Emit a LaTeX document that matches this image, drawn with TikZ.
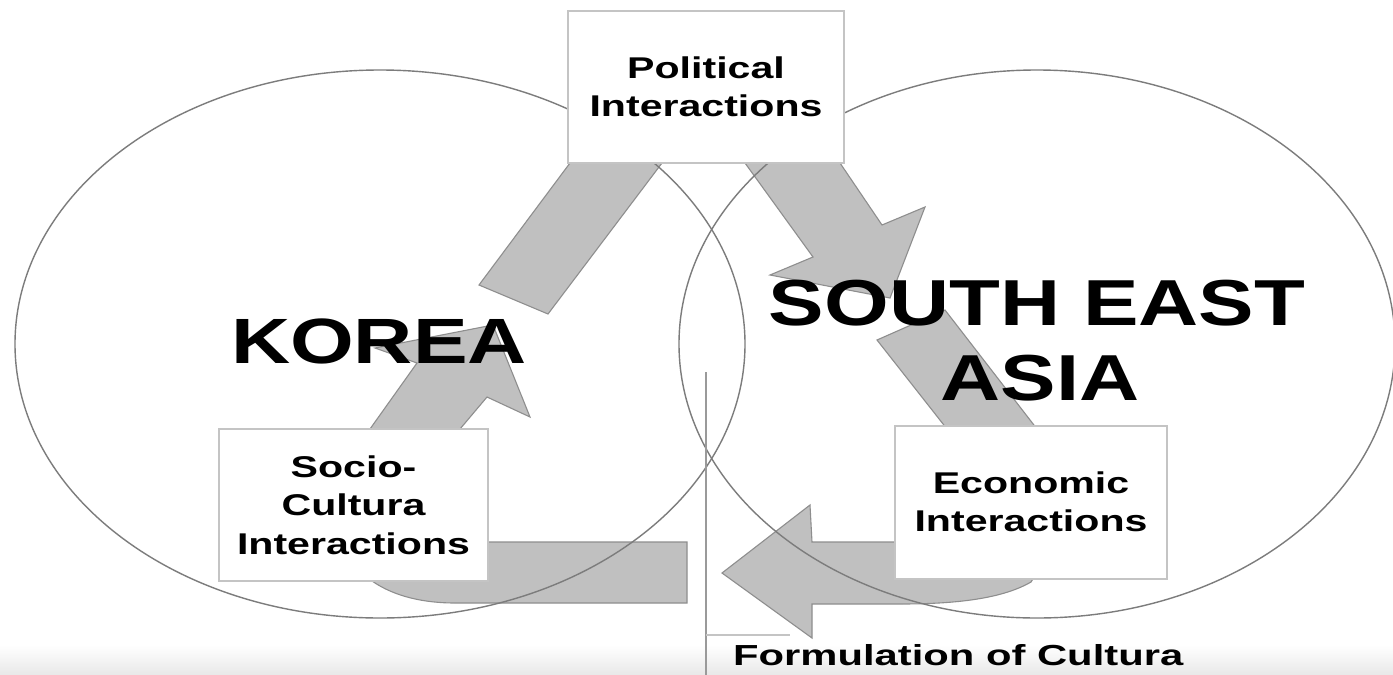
\documentclass[tikz,border=0pt]{standalone}
\usepackage{fontspec}
\setmainfont{Liberation Sans}
% wide bold sans faces for the labels
\newfontfamily\boxfont{Liberation Sans}[FakeStretch=1.37]
\newfontfamily\bigfont{Liberation Sans}[FakeStretch=1.28]
\newfontfamily\notefont{Liberation Sans}[FakeStretch=1.44]
\definecolor{bandgray}{HTML}{C0C0C0}
\definecolor{bandedge}{HTML}{8E8E8E}
\definecolor{ringgray}{HTML}{7C7C7C}
\definecolor{boxedge}{HTML}{C4C4C4}
\definecolor{rulegray}{HTML}{9A9A9A}
\begin{document}
\begin{tikzpicture}[x=1pt,y=-1pt,
  band/.style={fill=bandgray, draw=bandedge, line width=1.1pt, line join=miter},
  region/.style={draw=ringgray, line width=1.4pt},
  infobox/.style={draw=boxedge, line width=2pt, fill=white, align=center,
    inner sep=0pt, font=\boxfont\bfseries\fontsize{30}{38.5}\selectfont},
  country/.style={anchor=base, inner sep=0pt,
    font=\bigfont\bfseries\fontsize{64}{70}\selectfont},
  note/.style={anchor=base west, inner sep=0pt,
    font=\notefont\bfseries\fontsize{29}{34}\selectfont}]
\useasboundingbox (0,0) rectangle (1393,675);
\fill[white] (0,0) rectangle (1393,675);
% faint strip along the lower edge
\shade[top color=white, bottom color=black!9] (0,645) rectangle (1393,675);

% curved flow bands (their hidden parts run beneath the boxes)
% Political -> South East Asia
\path[band] (479,285) -- (570,163) -- (640,60) -- (780,60) -- (840,163)
  -- (882,225) -- (925,207) -- (890,298) -- (770,275) -- (813,257)
  -- (745,163) -- (720,130) -- (690,130) -- (662,163) -- (548,314) -- cycle;
% South East Asia -> Economic -> westwards
\path[band] (877,340) -- (945,310) -- (1037,429) -- (1045,560) -- (1031,582)
  .. controls (1000,600) and (950,604) .. (900,604) -- (812,604)
  -- (812,638) -- (722,573) -- (810,505) -- (812,542) -- (930,542)
  -- (947,429) -- cycle;
% westwards -> Socio-Cultura -> Korea
\path[band] (687,542) -- (687,603) -- (455,603)
  .. controls (425,603) and (395,597) .. (372,581) -- (340,520)
  -- (370,429) -- (417,363) -- (375,348) -- (493,325) -- (530,417)
  -- (487,397) -- (460,429) -- (470,530) -- (480,542) -- cycle;

% the two regions
\draw[region] (380,344) ellipse [x radius=365, y radius=274];
\draw[region] (1037,344) ellipse [x radius=358, y radius=274];

% interaction boxes
\node[infobox, minimum width=276, minimum height=152] (pol) at (706,87)
  {Political\\Interactions};
\node[infobox, minimum width=269, minimum height=152] (soc) at (353.5,505)
  {Socio-\\Cultura\\Interactions};
\node[infobox, minimum width=272, minimum height=153] (eco) at (1031,502)
  {Economic\\Interactions};

% region names
\node[country] (korea) at (379,363) {KOREA};
\node[country, font=\bigfont\bfseries\fontsize{65}{70}\selectfont] (sea1) at (1037,325) {SOUTH EAST};
\node[country, font=\bigfont\bfseries\fontsize{65}{70}\selectfont] (sea2) at (1040,400) {ASIA};

% bracket for the caption
\coordinate (vtop) at (706,372);
\coordinate (vbot) at (706,675);
\coordinate (hl) at (706,635);
\coordinate (hr) at (790,635);
\draw[rulegray, line width=1.4pt] (vtop) -- (vbot);
\draw[boxedge, line width=1.3pt] (hl) -- (hr);
\node[note] (cap) at (733,665) {Formulation of Cultura};
\end{tikzpicture}
\end{document}
